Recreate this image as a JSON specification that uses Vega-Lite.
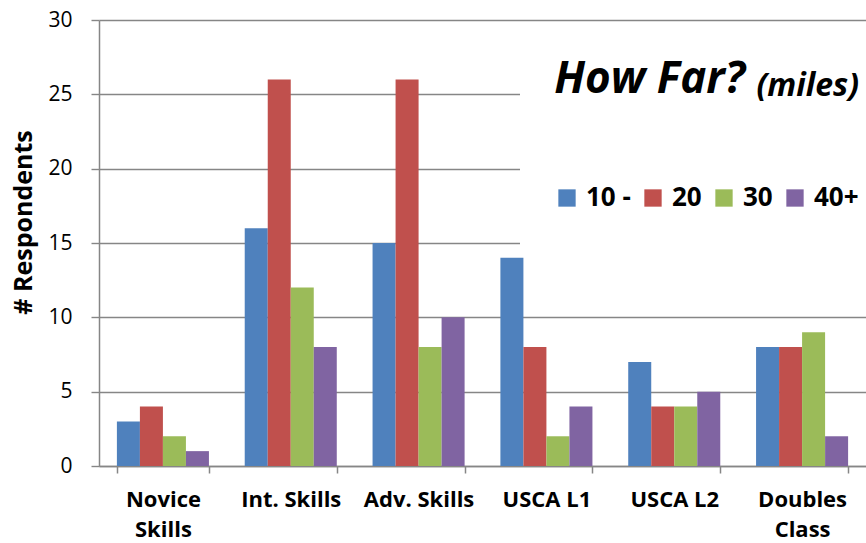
{
  "$schema": "https://vega.github.io/schema/vega-lite/v6.json",
  "width": 767,
  "height": 446,
  "autosize": {"type": "none"},
  "padding": {"left": 99, "top": 20, "right": 0, "bottom": 77},
  "background": "white",
  "title": {
    "text": "How Far?",
    "anchor": "end",
    "frame": "group",
    "orient": "top",
    "offset": -128,
    "dx": -121,
    "baseline": "alphabetic",
    "font": "Open Sans",
    "fontSize": 44,
    "fontWeight": "bold",
    "fontStyle": "italic",
    "color": "black"
  },
  "data": {
    "values": [
      {"Class": "Novice Skills", "Distance": "10 -", "Respondents": 3},
      {"Class": "Novice Skills", "Distance": "20", "Respondents": 4},
      {"Class": "Novice Skills", "Distance": "30", "Respondents": 2},
      {"Class": "Novice Skills", "Distance": "40+", "Respondents": 1},
      {"Class": "Int. Skills", "Distance": "10 -", "Respondents": 16},
      {"Class": "Int. Skills", "Distance": "20", "Respondents": 26},
      {"Class": "Int. Skills", "Distance": "30", "Respondents": 12},
      {"Class": "Int. Skills", "Distance": "40+", "Respondents": 8},
      {"Class": "Adv. Skills", "Distance": "10 -", "Respondents": 15},
      {"Class": "Adv. Skills", "Distance": "20", "Respondents": 26},
      {"Class": "Adv. Skills", "Distance": "30", "Respondents": 8},
      {"Class": "Adv. Skills", "Distance": "40+", "Respondents": 10},
      {"Class": "USCA L1", "Distance": "10 -", "Respondents": 14},
      {"Class": "USCA L1", "Distance": "20", "Respondents": 8},
      {"Class": "USCA L1", "Distance": "30", "Respondents": 2},
      {"Class": "USCA L1", "Distance": "40+", "Respondents": 4},
      {"Class": "USCA L2", "Distance": "10 -", "Respondents": 7},
      {"Class": "USCA L2", "Distance": "20", "Respondents": 4},
      {"Class": "USCA L2", "Distance": "30", "Respondents": 4},
      {"Class": "USCA L2", "Distance": "40+", "Respondents": 5},
      {"Class": "Doubles Class", "Distance": "10 -", "Respondents": 8},
      {"Class": "Doubles Class", "Distance": "20", "Respondents": 8},
      {"Class": "Doubles Class", "Distance": "30", "Respondents": 9},
      {"Class": "Doubles Class", "Distance": "40+", "Respondents": 2}
    ]
  },
  "mark": {"type": "bar"},
  "encoding": {
    "x": {
      "field": "Class",
      "type": "nominal",
      "sort": ["Novice Skills", "Int. Skills", "Adv. Skills", "USCA L1", "USCA L2", "Doubles Class"],
      "scale": {"paddingInner": 0.28, "paddingOuter": 0.14},
      "axis": {
        "title": null,
        "tickBand": "extent",
        "labelAngle": 0,
        "labelFont": "Open Sans",
        "labelFontSize": 22,
        "labelFontWeight": "bold",
        "labelColor": "black",
        "labelPadding": 16,
        "labelLineHeight": 30,
        "labelExpr": "datum.label == 'Novice Skills' ? ['Novice', 'Skills'] : datum.label == 'Doubles Class' ? ['Doubles', 'Class'] : datum.label",
        "domainColor": "#868686",
        "domainWidth": 1.5,
        "tickColor": "#868686",
        "tickWidth": 1.5,
        "tickSize": 7,
        "grid": false
      }
    },
    "xOffset": {
      "field": "Distance",
      "type": "nominal",
      "sort": ["10 -", "20", "30", "40+"],
      "scale": {"paddingInner": 0, "paddingOuter": 0}
    },
    "y": {
      "field": "Respondents",
      "type": "quantitative",
      "scale": {"domain": [0, 30], "nice": false},
      "axis": {
        "title": "# Respondents",
        "titleY": 202,
        "values": [0, 5, 10, 15, 20, 25, 30],
        "grid": true,
        "gridColor": "#868686",
        "gridWidth": 1.4,
        "domainColor": "#868686",
        "domainWidth": 1.5,
        "tickColor": "#868686",
        "tickWidth": 1.4,
        "tickSize": 8,
        "labelFont": "Open Sans",
        "labelFontSize": 21,
        "labelColor": "black",
        "labelPadding": 19,
        "titleFont": "Open Sans",
        "titleFontSize": 25,
        "titleFontWeight": "bold",
        "titleColor": "black",
        "titlePadding": 11
      }
    },
    "color": {
      "field": "Distance",
      "type": "nominal",
      "scale": {
        "domain": ["10 -", "20", "30", "40+"],
        "range": ["#4F81BD", "#C0504D", "#9BBB59", "#8064A2"]
      },
      "legend": {
        "orient": "none",
        "legendX": 421,
        "legendY": 17,
        "direction": "horizontal",
        "columns": 4,
        "title": "(miles)",
        "titleAnchor": "end",
        "titleFont": "Open Sans",
        "titleFontSize": 32,
        "titleFontWeight": "bold",
        "titleFontStyle": "italic",
        "titleColor": "black",
        "titlePadding": 82,
        "padding": 34,
        "fillColor": "white",
        "strokeColor": null,
        "symbolType": "square",
        "symbolSize": 300,
        "symbolStrokeWidth": 0,
        "symbolOpacity": 1,
        "labelFont": "Open Sans",
        "labelFontSize": 26,
        "labelFontWeight": "bold",
        "labelColor": "black",
        "labelOffset": 6,
        "columnPadding": 9
      }
    }
  },
  "config": {"view": {"stroke": null}, "font": "Open Sans"}
}
